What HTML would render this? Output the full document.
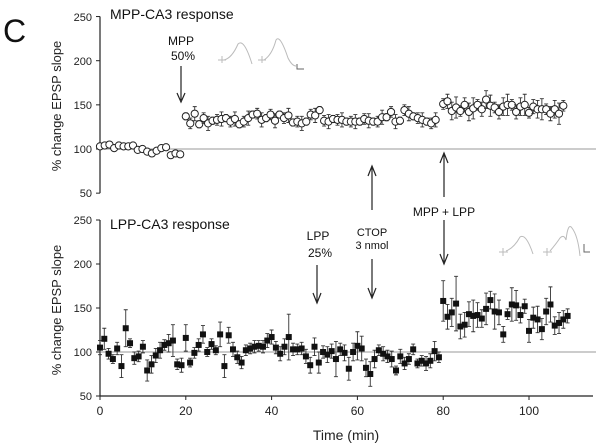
<!DOCTYPE html>
<html><head><meta charset="utf-8"><style>
body{margin:0;background:#fff;}
svg{display:block;font-family:"Liberation Sans",Arial,sans-serif;}
</style></head><body>
<svg id="chart" width="600" height="445" viewBox="0 0 600 445">
<text x="3" y="42" font-size="32" fill="#111">C</text>
<text x="110" y="19" font-size="14" fill="#111">MPP-CA3 response</text>
<text x="110" y="229" font-size="14" fill="#111">LPP-CA3 response</text>
<g font-size="12" fill="#111" text-anchor="middle">
<text x="181" y="45">MPP</text>
<text x="183" y="60">50%</text>
<text x="318" y="240">LPP</text>
<text x="320" y="257">25%</text>
<text x="372" y="236" font-size="11">CTOP</text>
<text x="372" y="249" font-size="11">3 nmol</text>
<text x="444" y="216">MPP + LPP</text>
</g>
<g font-size="11" fill="#222" text-anchor="end">
<text x="92" y="21">250</text>
<text x="92" y="65">200</text>
<text x="92" y="109">150</text>
<text x="92" y="153">100</text>
<text x="92" y="197">50</text>
<text x="92" y="224">250</text>
<text x="92" y="268">200</text>
<text x="92" y="312">150</text>
<text x="92" y="356">100</text>
<text x="92" y="400">50</text>
</g>
<text transform="translate(61,106) rotate(-90)" text-anchor="middle" font-size="13" fill="#222">% change EPSP slope</text>
<text transform="translate(61,310) rotate(-90)" text-anchor="middle" font-size="13" fill="#222">% change EPSP slope</text>
<text x="346" y="440" text-anchor="middle" font-size="14" fill="#222">Time (min)</text>
<g stroke="#222" stroke-width="1.2" fill="none">
<path d="M181 66V100M177 93L181 102L185 93"/>
<path d="M372 210V168M368 176L372 166L376 176"/>
<path d="M444 197V155M440 163L444 153L448 163"/>
<path d="M444 220V262M440 254L444 264L448 254"/>
<path d="M317 265V301M313 293L317 303L321 293"/>
<path d="M372 259V296M368 288L372 298L376 288"/>
</g>
<g stroke="#bbb" stroke-width="1" fill="none">
<path d="M218 60H226M222 56V63M224 60Q232 58 238 44Q244 38 252 64"/>
<path d="M258 60H266M262 56V63M264 60Q272 55 276 40Q280 34 288 58Q292 66 296 66"/>
<path d="M297 64V69H304" stroke="#666"/>
<path d="M499 252H508M503 248V256M506 251Q514 248 520 237Q526 233 533 254"/>
<path d="M543 252H552M547 248V256M550 251Q556 244 560 238Q564 234 566 240Q568 222 572 228Q578 236 580 256"/>
<path d="M584 244V252H590" stroke="#666"/>
</g>
<g id="plot"></g>
</svg>
<script>
const xTicks=[0,20,40,60,80,100];
const yTicks=[50,100,150,200,250];
const topBaseT=[0,1.1,2.2,3.3,4.4,5.5,6.6,7.7,8.8,9.9,11,12.1,13.2,14.3,15.4,16.5,17.6,18.7];
const topBaseV=[103,104,105,101,104,103,103,104,99,100,97,95,98,101,102,93,95,94];
const topMidV=[137,129,140,128,135,129,132,133,134,135,131,134,128,131,135,139,140,133,135,139,132,139,135,138,130,131,129,131,139,138,144,132,131,134,133,133,131,131,131,131,134,132,131,131,136,136,142,131,132,144,140,137,135,133,131,129,133];
const topLateV=[151,154,143,147,143,150,142,146,150,145,156,149,147,142,148,150,150,142,148,150,141,148,145,145,145,140,145,140,149];
const botEarlyV=[105,115,98,92,104,84,127,110,93,95,106,79,86,96,102,108,110,113,86,85,116,88,99,108,120,100,109,102,120,84,119,103,94,88,102,104,106,107,106,113,117,105,98,106,117,103,103,104,95,85,106,88,100,97,101,92,103,99,81,100,107,104,82,75,92,102,98,95,92,79,95,87,92,103,87,90,87,90,101,94];
const botLateV=[158,140,145,155,129,131,143,141,142,138,149,159,146,145,120,143,154,153,142,152,124,139,137,126,146,154,130,133,137,141];
const botEarlyE=[8,12,6,5,7,13,21,5,7,6,7,12,10,8,9,6,10,18,6,8,15,5,6,7,10,5,6,5,14,13,9,8,7,7,6,6,7,6,7,8,8,7,8,9,26,7,6,7,8,9,10,12,7,9,8,20,7,9,13,10,16,14,10,14,10,6,8,7,9,5,8,7,6,6,5,6,8,8,11,6];
const botLateE=[23,14,16,31,14,14,14,18,14,10,18,10,20,14,9,6,19,17,9,8,13,12,15,12,15,20,10,12,10,8];
const NS='http://www.w3.org/2000/svg';
const X0=100,XS=4.29;
function xs(t){return X0+t*XS;}
function yTop(v){return 149-(v-100)*0.883;}
function yBot(v){return 352-(v-100)*0.88;}
const g=document.getElementById('plot');
function mk(tag,attrs){const e=document.createElementNS(NS,tag);for(const k in attrs)e.setAttribute(k,attrs[k]);g.appendChild(e);return e;}
let e;
e=mk('line',{x1:100,y1:yTop(250),x2:100,y2:yTop(50),stroke:'#222','stroke-width':1.2});


e=mk('line',{x1:100,y1:yBot(250),x2:100,y2:yBot(50),stroke:'#222','stroke-width':1.2});


e=mk('line',{x1:100,y1:yBot(50),x2:593,y2:yBot(50),stroke:'#222','stroke-width':1.2});


e=mk('line',{x1:100,y1:yTop(100),x2:596,y2:yTop(100),stroke:'#999','stroke-width':1});


e=mk('line',{x1:100,y1:yBot(100),x2:596,y2:yBot(100),stroke:'#999','stroke-width':1});


yTicks.forEach(v=>{
 e=mk('line',{x1:96,y1:yTop(v),x2:100,y2:yTop(v),stroke:'#222'});
 
 
 e=mk('line',{x1:96,y1:yBot(v),x2:100,y2:yBot(v),stroke:'#222'});
 
 
});
xTicks.forEach(t=>{
 e=mk('line',{x1:xs(t),y1:yBot(50),x2:xs(t),y2:yBot(50)+4,stroke:'#222'});
 
 
 e=mk('text',{x:xs(t),y:415,'text-anchor':'middle','font-size':12,fill:'#222'});
 e.textContent=t;
 
 
});
function err(x,y1,y2){
 e=mk('path',{d:`M${x} ${y1}V${y2}M${x-2} ${y2}H${x+2}`,stroke:'#333','stroke-width':0.9,fill:'none'});
 
 
}
function circ(t,v,er){
 const x=xs(t);
 if(er){err(x,yTop(v),yTop(v+er));err(x,yTop(v),yTop(v-er));}
 e=mk('circle',{cx:x,cy:yTop(v),r:3.6,fill:'#fff',stroke:'#222','stroke-width':1});
 
 
}
topBaseV.forEach((v,i)=>circ(topBaseT[i],v,0));
topMidV.forEach((v,i)=>circ(20+i*1.04,v,4+(i%3)*2));
topLateV.forEach((v,i)=>circ(80+i,v,6+(i%4)*2));
function sq(t,v,er){
 const x=xs(t);
 err(x,yBot(v),yBot(v+er));
 err(x,yBot(v),yBot(v-er));
 e=mk('rect',{x:x-3,y:yBot(v)-3,width:6,height:6,fill:'#111'});
 
 
}
botEarlyV.forEach((v,i)=>sq(i,v,botEarlyE[i]));
botLateV.forEach((v,i)=>sq(80+i,v,botLateE[i]));
</script>
</body></html>
